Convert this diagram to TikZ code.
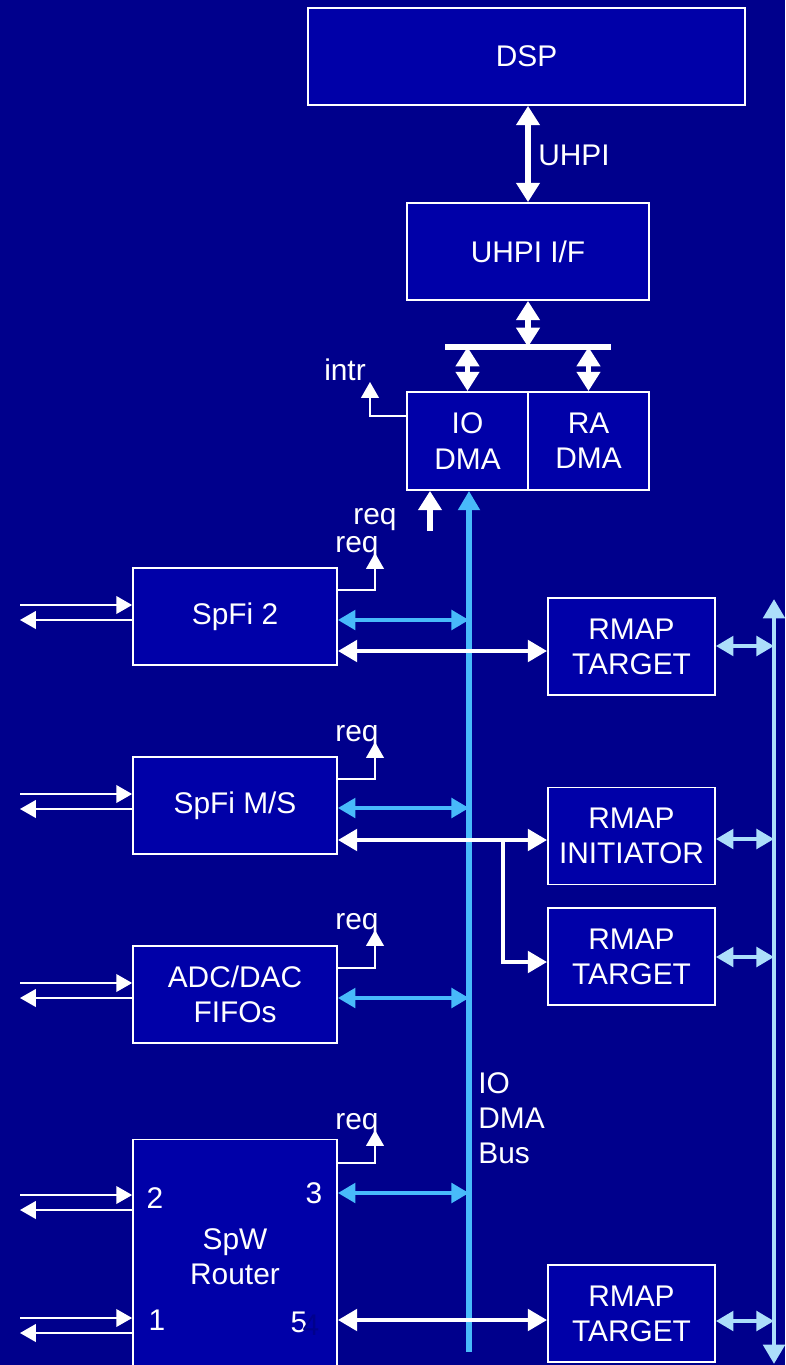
\documentclass[tikz,border=0pt]{standalone}
\usepackage{fontspec}
\setmainfont{Liberation Sans}
\usetikzlibrary{positioning, arrows.meta, calc}
\definecolor{bgnavy}{RGB}{0,0,140}
\definecolor{boxblue}{RGB}{0,0,168}
\definecolor{busblue}{RGB}{72,186,250}
\definecolor{paleblue}{RGB}{172,222,250}

\begin{document}
\begin{tikzpicture}[x=0.02cm, y=-0.02cm]
	\tikzset{
		blk/.style={draw=white, line width=1pt, fill=boxblue, text=white, align=center, inner sep=0pt, minimum height=1.94cm, font=\fontsize{17}{20}\selectfont},
		lbl/.style={text=white, inner sep=0pt, align=left, font=\fontsize{17}{20}\selectfont},
		thinarr/.style={white, line width=1.1pt, -{Triangle[length=9pt, width=10pt]}},
		fatarr/.style={white, line width=3.4pt, {Triangle[length=11pt, width=13pt]}-{Triangle[length=11pt, width=13pt]}},
		whitearr/.style={white, line width=2.8pt, {Triangle[length=11pt, width=12pt]}-{Triangle[length=11pt, width=12pt]}},
		busarr/.style={busblue, line width=2.4pt, {Triangle[length=10pt, width=11pt]}-{Triangle[length=10pt, width=11pt]}},
		palearr/.style={paleblue, line width=2.4pt, {Triangle[length=10pt, width=11pt]}-{Triangle[length=10pt, width=11pt]}}
	}
	\fill[bgnavy] (0,0) rectangle (785,1365);
	\clip (0,0) rectangle (785,1365);

	% boxes
	\node[blk, minimum width=8.74cm] (dsp) at (526.5,56.5) {DSP};
	\node[blk, minimum width=4.84cm] (uhpi) at (528,251.5) {UHPI I/F};
	\node[blk, minimum width=2.42cm, minimum height=1.96cm] (iodma) at (467.5,441) {IO\\DMA};
	\node[blk, minimum width=2.42cm, minimum height=1.96cm] (radma) at (588.5,441) {RA\\DMA};
	\node[blk, minimum width=4.08cm] (spfi2) at (235,616.5) {SpFi 2};
	\node[blk, minimum width=4.08cm] (spfims) at (235,805.5) {SpFi M/S};
	\node[blk, minimum width=4.08cm] (adc) at (235,994.5) {ADC/DAC\\FIFOs};
	\node[blk, minimum width=4.08cm, minimum height=4.7cm] (router) at (235,1257) {SpW\\Router};
	\node[blk, minimum width=3.34cm] (rt1) at (631.5,646.5) {RMAP\\TARGET};
	\node[blk, minimum width=3.34cm] (rini) at (631.5,836) {RMAP\\INITIATOR};
	\node[blk, minimum width=3.34cm] (rt2) at (631.5,956.5) {RMAP\\TARGET};
	\node[blk, minimum width=3.34cm] (rt3) at (631.5,1313.5) {RMAP\\TARGET};

	% DSP side
	\draw[fatarr] (dsp.south -| uhpi.north) -- (uhpi.north);
	\node[lbl, anchor=west] (uhpilbl) at (538,155) {UHPI};
	\coordinate (barL) at (445,347);
	\coordinate (barR) at (611,347);
	\draw[white, line width=3.2pt] (barL) -- (barR);
	\draw[fatarr] (uhpi.south) -- (uhpi.south |- barL);
	\draw[fatarr] (iodma.north) -- (iodma.north |- barL);
	\draw[fatarr] (radma.north) -- (radma.north |- barL);
	\coordinate (intrtip) at (370,382);
	\draw[thinarr] (iodma.west |- 0,416) -| (intrtip);
	\node[lbl] (intrlbl) at (345,370) {intr};
	\coordinate (reqio) at (430,531);
	\draw[white, line width=3.4pt, -{Triangle[length=11pt, width=13pt]}] (reqio) -- (reqio |- iodma.south);
	\node[lbl] (reqiolbl) at (375,520) {req};

	% IO DMA bus
	\coordinate (busbot) at (469,1352);
	\draw[busblue, line width=3.2pt, -{Triangle[length=11pt, width=12pt]}] (busbot) -- (busbot |- iodma.south);
	\node[lbl, anchor=west] (buslbl) at (478,1118) {IO\\DMA\\Bus};

	% right bus
	\coordinate (rbtop) at (774,599);
	\coordinate (rbbot) at (774,1364);
	\draw[paleblue, line width=2.8pt, {Triangle[length=11pt, width=12pt]}-{Triangle[length=11pt, width=12pt]}] (rbtop) -- (rbbot);
	\foreach \b/\y in {rt1/646, rini/839, rt2/957, rt3/1321} {
		\draw[palearr] (\b.east |- 0,\y) -- (rbtop |- 0,\y);
	}

	% links on the left
	\coordinate (edge) at (20,0);
	\foreach \b/\ya/\yb in {spfi2/605/620, spfims/794/809, adc/983/998, router/1195/1210, router/1318/1333} {
		\draw[thinarr] (edge |- 0,\ya) -- (\b.west |- 0,\ya);
		\draw[thinarr] (\b.west |- 0,\yb) -- (edge |- 0,\yb);
	}

	% req lines
	\foreach \b/\y/\t in {spfi2/590/553, spfims/779/742, adc/968/930, router/1163/1130} {
		\draw[thinarr] (\b.east |- 0,\y) -| (375,\t);
		\node[lbl] at (357,\t-5) {req};
	}

	% to the IO DMA bus
	\foreach \b/\y in {spfi2/620, spfims/808, adc/998, router/1193} {
		\draw[busarr] (\b.east |- 0,\y) -- (busbot |- 0,\y);
	}

	% to the RMAP blocks
	\draw[whitearr] (spfi2.east |- 0,651) -- (rt1.west |- 0,651);
	\draw[whitearr] (spfims.east |- 0,840) -- (rini.west |- 0,840);
	\coordinate (split) at (503,840);
	\draw[white, line width=2.8pt, -{Triangle[length=11pt, width=12pt]}] (split) |- (rt2.west |- 0,962);
	\draw[whitearr] (router.east |- 0,1320) -- (rt3.west |- 0,1320);

	% router ports
	\node[lbl] (p2) at (155,1198) {2};
	\node[lbl] (p3) at (314,1193) {3};
	\node[lbl] (p1) at (157,1320) {1};
	\node[lbl] (p5) at (299,1322) {5};
	\node[lbl, text=bgnavy] (p4) at (311,1325) {4};
\end{tikzpicture}
\end{document}
